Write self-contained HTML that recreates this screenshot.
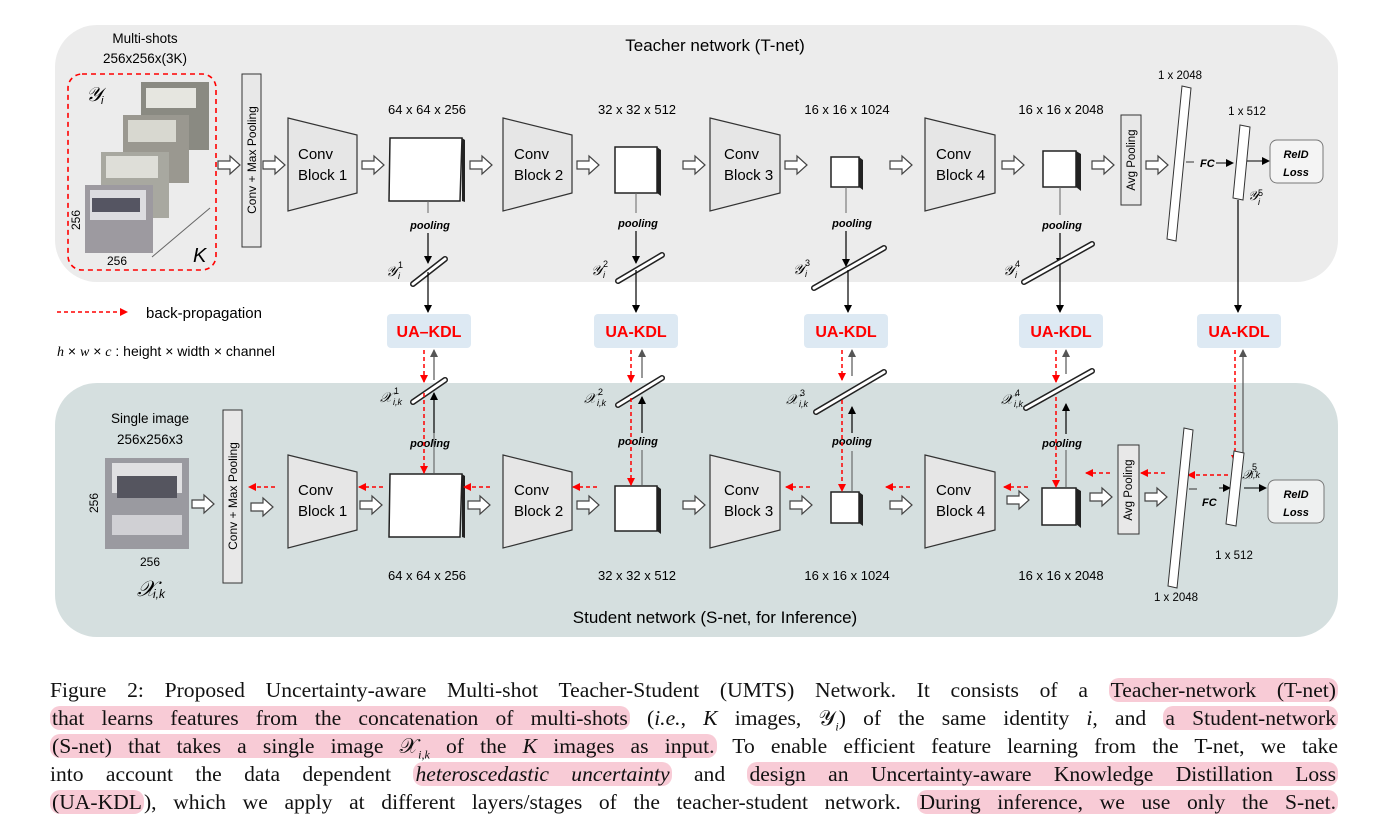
<!DOCTYPE html>
<html><head><meta charset="utf-8"><style>
body{margin:0;background:#fff;width:1387px;height:835px;overflow:hidden;position:relative;font-family:"Liberation Sans",sans-serif}
.cap{position:absolute;left:50px;width:1288px;font-family:"Liberation Serif",serif;font-size:21.6px;line-height:28px;text-align:justify;text-align-last:justify;white-space:nowrap;color:#111}
.h{background:rgba(240,140,165,.45);border-radius:10px;padding:0 2px}
svg text{font-family:"Liberation Sans",sans-serif}
</style></head><body>
<svg width="1387" height="660" style="position:absolute;left:0;top:0">
<defs>
<marker id="ab" markerWidth="8" markerHeight="8" refX="7" refY="4" orient="auto" markerUnits="userSpaceOnUse"><path d="M0,0L8,4L0,8z" fill="#000"/></marker>
<marker id="ag" markerWidth="8" markerHeight="8" refX="7" refY="4" orient="auto" markerUnits="userSpaceOnUse"><path d="M0,0L8,4L0,8z" fill="#555"/></marker>
<marker id="ar" markerWidth="8" markerHeight="8" refX="7" refY="4" orient="auto" markerUnits="userSpaceOnUse"><path d="M0,0L8,4L0,8z" fill="#f00"/></marker>
<g id="ha"><path d="M0,-4h12v-5l10,9l-10,9v-5h-12z" fill="#fff" stroke="#444" stroke-width="1.2"/></g>
</defs>
<rect x="55" y="25" width="1283" height="257" rx="42" fill="#ececec"/>
<rect x="55" y="383" width="1283" height="254" rx="42" fill="#d5dfdf"/>
<text x="715" y="51" font-size="17" text-anchor="middle">Teacher network (T-net)</text>
<text x="715" y="623" font-size="17" text-anchor="middle">Student network (S-net, for Inference)</text>
<text x="145" y="43" font-size="13.5" text-anchor="middle">Multi-shots</text>
<text x="145" y="63" font-size="13.5" text-anchor="middle">256x256x(3K)</text>
<rect x="68" y="74" width="148" height="196" rx="14" fill="none" stroke="#f00" stroke-width="1.6" stroke-dasharray="5,4"/>
<text x="86" y="101" font-size="20" font-family="Liberation Serif" font-style="italic">𝒴</text><text x="101" y="104" font-size="11" font-style="italic" font-family="Liberation Serif">i</text>
<rect x="141" y="82" width="68" height="68" fill="#8a8a82"/><rect x="146" y="88" width="50" height="20" fill="#e6e6e0"/>
<rect x="123" y="115" width="66" height="68" fill="#9a9890"/><rect x="128" y="120" width="48" height="22" fill="#d8d8d0"/>
<rect x="101" y="152" width="68" height="66" fill="#a8a8a0"/><rect x="106" y="156" width="52" height="22" fill="#deded8"/>
<rect x="85" y="185" width="68" height="68" fill="#9d9aa0"/><rect x="90" y="190" width="56" height="30" fill="#dcdce0"/><rect x="92" y="198" width="48" height="14" fill="#555562"/>
<text x="80" y="220" font-size="12" transform="rotate(-90 80 220)" text-anchor="middle">256</text>
<text x="117" y="265" font-size="12" text-anchor="middle">256</text>
<path d="M152,257L210,208" stroke="#666" fill="none"/>
<text x="193" y="262" font-size="20" font-family="Liberation Serif" font-style="italic">K</text>
<use href="#ha" x="218" y="165"/>
<rect x="242" y="74" width="19" height="173" fill="#e8e8e8" stroke="#333"/>
<text x="256" y="160" font-size="12" transform="rotate(-90 256 160)" text-anchor="middle">Conv + Max Pooling</text>
<g fill="#e6e6e6" stroke="#333" stroke-width="1.2">
<path d="M288,118L357,135L357,193L288,211z"/><path d="M503,118L572,135L572,193L503,211z"/><path d="M710,118L780,135L780,193L710,211z"/><path d="M925,118L995,135L995,193L925,211z"/>
<path d="M288,455L357,472L357,530L288,548z"/><path d="M503,455L572,472L572,530L503,548z"/><path d="M710,455L780,472L780,530L710,548z"/><path d="M925,455L995,472L995,530L925,548z"/>
</g>
<g font-size="15">
<text x="298" y="159">Conv</text><text x="298" y="180">Block 1</text>
<text x="514" y="159">Conv</text><text x="514" y="180">Block 2</text>
<text x="724" y="159">Conv</text><text x="724" y="180">Block 3</text>
<text x="936" y="159">Conv</text><text x="936" y="180">Block 4</text>
<text x="298" y="495">Conv</text><text x="298" y="516">Block 1</text>
<text x="514" y="495">Conv</text><text x="514" y="516">Block 2</text>
<text x="724" y="495">Conv</text><text x="724" y="516">Block 3</text>
<text x="936" y="495">Conv</text><text x="936" y="516">Block 4</text>
</g>
<g fill="#fff" stroke="#222" stroke-width="1.5">
<path d="M390,138L462,138L460,201L389,201z"/>
<rect x="615" y="147" width="42" height="46"/><rect x="831" y="157" width="28" height="30"/><rect x="1043" y="151" width="33" height="36"/>
<path d="M390,474L462,474L460,537L389,537z"/>
<rect x="615" y="486" width="42" height="45"/><rect x="831" y="492" width="28" height="31"/><rect x="1042" y="488" width="34" height="37"/>
</g>
<g fill="#222"><path d="M462,138l3,2v62l-3,-1z"/><path d="M657,147l4,3v46l-4,-3z"/><path d="M859,157l4,3v30l-4,-3z"/><path d="M1076,151l5,3v37l-5,-4z"/>
<path d="M462,474l3,2v62l-3,-1z"/><path d="M657,486l4,3v45l-4,-3z"/><path d="M859,492l4,3v31l-4,-3z"/><path d="M1076,488l5,3v37l-5,-4z"/></g>
<g font-size="13" text-anchor="middle">
<text x="427" y="114">64 x 64 x 256</text><text x="637" y="114">32 x 32 x 512</text><text x="847" y="114">16 x 16 x 1024</text><text x="1061" y="114">16 x 16 x 2048</text>
<text x="427" y="580">64 x 64 x 256</text><text x="637" y="580">32 x 32 x 512</text><text x="847" y="580">16 x 16 x 1024</text><text x="1061" y="580">16 x 16 x 2048</text>
</g>
<use href="#ha" x="263" y="165"/><use href="#ha" x="362" y="165"/><use href="#ha" x="470" y="165"/><use href="#ha" x="577" y="165"/><use href="#ha" x="683" y="165"/><use href="#ha" x="785" y="165"/><use href="#ha" x="890" y="165"/><use href="#ha" x="1002" y="165"/><use href="#ha" x="1092" y="165"/><use href="#ha" x="1146" y="165"/>
<rect x="1121" y="115" width="20" height="90" fill="#e8e8e8" stroke="#333"/>
<text x="1135" y="160" font-size="11.5" transform="rotate(-90 1135 160)" text-anchor="middle">Avg Pooling</text>
<path d="M1182,86L1191,88L1176,241L1167,239z" fill="#fff" stroke="#333"/>
<text x="1180" y="79" font-size="11.5" text-anchor="middle">1 x 2048</text>
<path d="M1186,162h8" stroke="#333"/><text x="1200" y="167" font-size="11" font-weight="bold" font-style="italic">FC</text>
<path d="M1216,163h17" stroke="#000" marker-end="url(#ab)"/>
<path d="M1240,125L1250,127L1243,200L1233,198z" fill="#fff" stroke="#333"/>
<text x="1247" y="115" font-size="11.5" text-anchor="middle">1 x 512</text>
<text x="1248" y="200" font-size="13" font-style="italic" font-family="Liberation Serif">𝒴</text><text x="1258" y="196" font-size="9" font-family="Liberation Serif">5</text><text x="1258" y="205" font-size="9" font-family="Liberation Serif" font-style="italic">i</text>
<path d="M1247,161h22" stroke="#000" marker-end="url(#ab)"/>
<rect x="1270" y="140" width="53" height="43" rx="7" fill="#f4f4f4" stroke="#777"/>
<text x="1296" y="158" font-size="11" font-weight="bold" font-style="italic" text-anchor="middle">ReID</text><text x="1296" y="176" font-size="11" font-weight="bold" font-style="italic" text-anchor="middle">Loss</text>
<g stroke="#666" stroke-width="1"><path d="M428,201v12"/><path d="M636,193v20"/><path d="M846,187v26"/><path d="M1060,187v28"/></g>
<g font-size="11" font-weight="bold" font-style="italic" text-anchor="middle"><text x="430" y="229">pooling</text><text x="638" y="227">pooling</text><text x="852" y="227">pooling</text><text x="1062" y="229">pooling</text>
<text x="430" y="447">pooling</text><text x="638" y="445">pooling</text><text x="852" y="445">pooling</text><text x="1062" y="447">pooling</text></g>
<g stroke="#000" stroke-width="1.2" marker-end="url(#ab)"><path d="M428,233v30"/><path d="M636,231v32"/><path d="M846,231v35"/><path d="M1060,233v32"/></g>
<g stroke="#222" stroke-width="6" stroke-linecap="round"><path d="M413,284L445,259"/><path d="M618,281L662,255"/><path d="M814,288L884,248"/><path d="M1024,282L1092,244"/>
<path d="M413,402L445,380"/><path d="M618,405L662,378"/><path d="M816,412L884,372"/><path d="M1026,408L1092,371"/></g>
<g stroke="#fff" stroke-width="3" stroke-linecap="round"><path d="M413,284L445,259"/><path d="M618,281L662,255"/><path d="M814,288L884,248"/><path d="M1024,282L1092,244"/>
<path d="M413,402L445,380"/><path d="M618,405L662,378"/><path d="M816,412L884,372"/><path d="M1026,408L1092,371"/></g>
<g font-family="Liberation Serif" font-style="italic" font-size="14"><text x="386" y="276">𝒴</text><text x="591" y="275">𝒴</text><text x="793" y="274">𝒴</text><text x="1003" y="275">𝒴</text>
<text x="380" y="402">𝒳</text><text x="584" y="403">𝒳</text><text x="786" y="404">𝒳</text><text x="1001" y="404">𝒳</text></g>
<g font-family="Liberation Serif" font-size="9"><text x="398" y="268">1</text><text x="603" y="267">2</text><text x="805" y="266">3</text><text x="1015" y="267">4</text>
<text x="394" y="394">1</text><text x="598" y="395">2</text><text x="800" y="396">3</text><text x="1015" y="396">4</text><text x="1252" y="470">5</text></g>
<g font-family="Liberation Serif" font-size="9" font-style="italic"><text x="398" y="279">i</text><text x="603" y="278">i</text><text x="805" y="277">i</text><text x="1015" y="278">i</text>
<text x="393" y="405">i,k</text><text x="597" y="406">i,k</text><text x="799" y="407">i,k</text><text x="1014" y="407">i,k</text><text x="1251" y="478">i,k</text></g>
<g stroke="#000" stroke-width="1.2" marker-end="url(#ab)"><path d="M428,272v40"/><path d="M636,270v42"/><path d="M848,270v42"/><path d="M1060,265v47"/><path d="M1238,200v112"/></g>
<g fill="#dde9f3"><rect x="387" y="314" width="84" height="34" rx="4"/><rect x="594" y="314" width="84" height="34" rx="4"/><rect x="804" y="314" width="84" height="34" rx="4"/><rect x="1019" y="314" width="84" height="34" rx="4"/><rect x="1197" y="314" width="84" height="34" rx="4"/></g>
<g font-size="16" font-weight="bold" fill="#f00" text-anchor="middle"><text x="429" y="337">UA–KDL</text><text x="636" y="337">UA-KDL</text><text x="846" y="337">UA-KDL</text><text x="1061" y="337">UA-KDL</text><text x="1239" y="337">UA-KDL</text></g>
<path d="M57,312h70" stroke="#f00" stroke-width="1.5" stroke-dasharray="4,3" marker-end="url(#ar)"/>
<text x="146" y="318" font-size="15">back-propagation</text>
<text x="57" y="356" font-size="14"><tspan font-family="Liberation Serif" font-style="italic">h</tspan> × <tspan font-family="Liberation Serif" font-style="italic">w</tspan> × <tspan font-family="Liberation Serif" font-style="italic">c</tspan> :  height × width × channel</text>
<g stroke="#555" stroke-width="1.2" marker-end="url(#ag)"><path d="M434,380v-30"/><path d="M642,378v-28"/><path d="M852,376v-26"/><path d="M1066,374v-24"/><path d="M1243,455v-105"/></g>
<g stroke="#f00" stroke-width="1.5" stroke-dasharray="4,3" marker-end="url(#ar)"><path d="M424,350v32"/><path d="M631,350v32"/><path d="M842,350v30"/><path d="M1056,350v32"/><path d="M1235,350v112"/>
<path d="M424,393v80"/><path d="M631,398v87"/><path d="M842,400v91"/><path d="M1056,397v90"/></g>
<g stroke="#555" stroke-width="1" ><path d="M434,473v-40"/><path d="M642,485v-35"/><path d="M852,491v-40"/><path d="M1066,487v-37"/></g>
<g stroke="#000" stroke-width="1.2" marker-end="url(#ab)"><path d="M434,433v-40"/><path d="M642,433v-36"/><path d="M852,433v-26"/><path d="M1066,434v-30"/></g>
<text x="150" y="423" font-size="13.5" text-anchor="middle">Single image</text>
<text x="150" y="444" font-size="13.5" text-anchor="middle">256x256x3</text>
<rect x="105" y="458" width="84" height="91" fill="#9a9aa0"/><rect x="112" y="463" width="70" height="30" fill="#e0e0e2"/><rect x="117" y="476" width="60" height="22" fill="#55555f"/><rect x="112" y="515" width="70" height="20" fill="#d0d0d4"/>
<text x="98" y="503" font-size="12" transform="rotate(-90 98 503)" text-anchor="middle">256</text>
<text x="150" y="566" font-size="12" text-anchor="middle">256</text>
<text x="137" y="596" font-size="22" font-family="Liberation Serif" font-style="italic">𝒳</text><text x="153" y="598" font-size="12" font-family="Liberation Serif" font-style="italic">i,k</text>
<use href="#ha" x="192" y="504"/>
<rect x="223" y="410" width="19" height="173" fill="#e8e8e8" stroke="#333"/>
<text x="237" y="496" font-size="12" transform="rotate(-90 237 496)" text-anchor="middle">Conv + Max Pooling</text>
<use href="#ha" x="251" y="507"/><use href="#ha" x="360" y="505"/><use href="#ha" x="468" y="505"/><use href="#ha" x="577" y="505"/><use href="#ha" x="683" y="505"/><use href="#ha" x="790" y="505"/><use href="#ha" x="890" y="505"/><use href="#ha" x="1007" y="500"/><use href="#ha" x="1090" y="497"/><use href="#ha" x="1145" y="497"/>
<g stroke="#f00" stroke-width="1.5" stroke-dasharray="4,3" marker-end="url(#ar)"><path d="M275,487h-26"/><path d="M383,487h-24"/><path d="M490,487h-26"/><path d="M597,487h-24"/><path d="M810,487h-24"/><path d="M910,487h-24"/><path d="M1028,487h-24"/><path d="M1110,473h-24"/><path d="M1165,473h-24"/><path d="M1228,475h-40"/></g>
<rect x="1118" y="445" width="21" height="89" fill="#e8e8e8" stroke="#333"/>
<text x="1132" y="490" font-size="11.5" transform="rotate(-90 1132 490)" text-anchor="middle">Avg Pooling</text>
<path d="M1184,428L1193,430L1177,588L1168,586z" fill="#fff" stroke="#333"/>
<text x="1176" y="601" font-size="11.5" text-anchor="middle">1 x 2048</text>
<path d="M1189,489h8" stroke="#333"/><text x="1202" y="506" font-size="11" font-weight="bold" font-style="italic">FC</text>
<path d="M1219,488h11" stroke="#000" marker-end="url(#ab)"/>
<path d="M1234,451L1244,453L1236,526L1226,524z" fill="#fff" stroke="#333"/>
<text x="1234" y="559" font-size="11.5" text-anchor="middle">1 x 512</text>
<text x="1242" y="479" font-size="13" font-family="Liberation Serif" font-style="italic">𝒳</text>
<path d="M1244,488h22" stroke="#000" marker-end="url(#ab)"/>
<rect x="1268" y="480" width="56" height="43" rx="7" fill="#eef0f0" stroke="#777"/>
<text x="1296" y="498" font-size="11" font-weight="bold" font-style="italic" text-anchor="middle">ReID</text><text x="1296" y="516" font-size="11" font-weight="bold" font-style="italic" text-anchor="middle">Loss</text>
</svg>
<div class="cap" style="top:676px">Figure 2: Proposed Uncertainty-aware Multi-shot Teacher-Student (UMTS) Network. It consists of a <span class="h">Teacher-network (T-net)</span></div>
<div class="cap" style="top:704px"><span class="h">that learns features from the concatenation of multi-shots</span> (<i>i.e.</i>, <i>K</i> images, 𝒴<sub style="font-size:12px"><i>i</i></sub>) of the same identity <i>i</i>, and <span class="h">a Student-network</span></div>
<div class="cap" style="top:732px"><span class="h">(S-net) that takes a single image 𝒳<sub style="font-size:12px"><i>i,k</i></sub> of the <i>K</i> images as input.</span> To enable efficient feature learning from the T-net, we take</div>
<div class="cap" style="top:760px">into account the data dependent <span class="h"><i>heteroscedastic uncertainty</i></span> and <span class="h">design an Uncertainty-aware Knowledge Distillation Loss</span></div>
<div class="cap" style="top:788px"><span class="h">(UA-KDL</span>), which we apply at different layers/stages of the teacher-student network. <span class="h">During inference, we use only the S-net.</span></div>
</body></html>
